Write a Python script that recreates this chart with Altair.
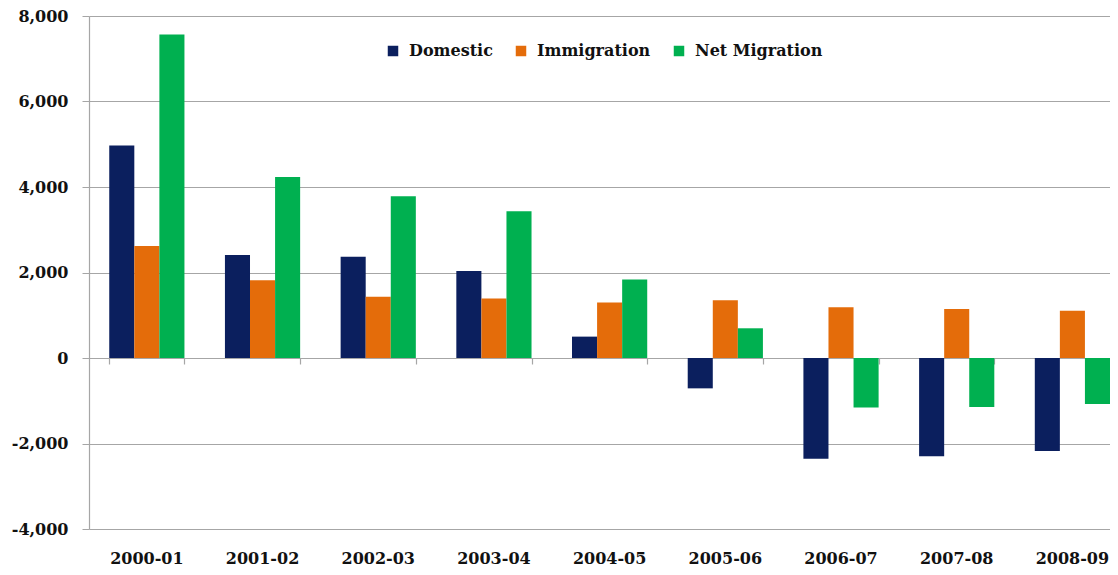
import altair as alt
import pandas as pd

periods = ["2000-01", "2001-02", "2002-03", "2003-04", "2004-05",
           "2005-06", "2006-07", "2007-08", "2008-09"]
series = ["Domestic", "Immigration", "Net Migration"]
domestic = [4970, 2410, 2370, 2035, 500, -710, -2355, -2300, -2175]
immigration = [2620, 1820, 1430, 1390, 1300, 1350, 1185, 1145, 1105]
net_migration = [7570, 4235, 3785, 3435, 1835, 695, -1160, -1145, -1075]
colors = ["#0B1F5E", "#E46C0A", "#00B050"]
y_ticks = [-4000, -2000, 0, 2000, 4000, 6000, 8000]

rows = []
for i, p in enumerate(periods):
    for s, vals in zip(series, [domestic, immigration, net_migration]):
        rows.append({"Period": p, "Series": s, "Value": vals[i]})
df = pd.DataFrame(rows)

FONT = "DejaVu Serif"
GRID = "#A6A6A6"

xscale = alt.Scale(domain=periods, paddingInner=0.35, paddingOuter=0.0875, align=1)

bars = alt.Chart(df).mark_bar().encode(
    x=alt.X("Period:N", sort=periods, scale=xscale, title=None,
            axis=alt.Axis(orient="bottom", labelAngle=0, labelFont=FONT, labelFontWeight="bold",
                          labelFontSize=16, labelColor="#111111", labelPadding=21,
                          ticks=False, domain=False, grid=False)),
    xOffset=alt.XOffset("Series:N", sort=series, scale=alt.Scale(paddingInner=0, paddingOuter=0)),
    y=alt.Y("Value:Q", scale=alt.Scale(domain=[-4000, 8000], nice=False, zero=False),
            title=None,
            axis=alt.Axis(values=y_ticks,
                          labelExpr="datum.value < 0 ? '-' + format(-datum.value, ',') : format(datum.value, ',')",
                          labelFont=FONT, labelFontWeight="bold",
                          labelFontSize=16, labelColor="#111111", labelPadding=14,
                          tickSize=7, tickColor=GRID, domainColor=GRID, gridColor=GRID,
                          gridWidth=1.2, domainWidth=1.2)),
    color=alt.Color("Series:N", sort=series,
                    scale=alt.Scale(domain=series, range=colors),
                    legend=alt.Legend(title=None, orient="none", direction="horizontal",
                                      legendX=296, legendY=27, symbolType="square",
                                      symbolSize=110, symbolStrokeWidth=0,
                                      labelFont=FONT, labelFontWeight="bold",
                                      labelFontSize=16, labelColor="#111111",
                                      labelOffset=8, columnPadding=20)),
)

ticks_layer = alt.Chart(df).mark_bar(opacity=0).encode(
    x=alt.X("Period:N", sort=periods, scale=xscale, title=None,
            axis=alt.Axis(orient="bottom", labels=False, ticks=True, tickBand="extent",
                          tickSize=6, tickColor=GRID, tickWidth=1.2, domain=False,
                          grid=False, offset=-171)),
    y=alt.Y("Value:Q"),
)

chart = alt.layer(bars, ticks_layer).resolve_axis(x="independent").properties(
    width=1021, height=513,
    autosize=alt.AutoSizeParams(type="none"),
    padding={"left": 81, "top": 8, "right": 0, "bottom": 38},
).configure_view(stroke=None)

chart.save("out.html", embed_options={"renderer": "svg", "actions": False})
